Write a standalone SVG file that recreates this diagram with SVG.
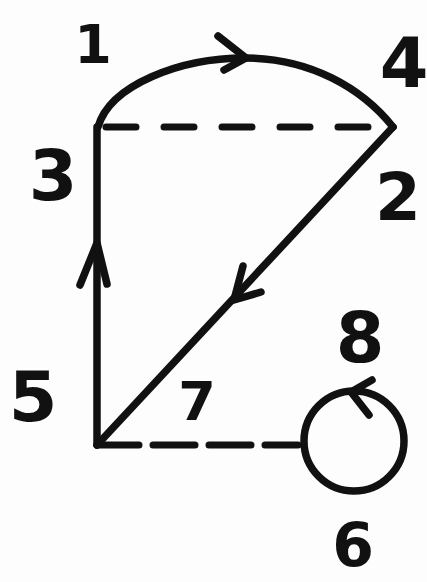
<svg xmlns="http://www.w3.org/2000/svg" width="427" height="582" viewBox="0 0 427 582">
<style>
.e{fill:none;stroke:#111;stroke-width:7.5;stroke-linecap:round;stroke-linejoin:round}
.d{fill:none;stroke:#111;stroke-width:7;stroke-linecap:round}
.t{font-family:"DejaVu Sans",sans-serif;font-weight:bold;fill:#111;text-anchor:middle}
</style>
<rect width="427" height="582" fill="#fdfdfd"/>
<g id="connectors">
<path class="e" d="M98,127 C110,85 180,58 245,58 C310,58 362,88 393,127"/>
<polyline class="e" points="218,36 246,58 224,70"/>
<line class="d" x1="98" y1="127" x2="390" y2="127" stroke-dasharray="30,28" stroke-dashoffset="-8"/>
<line class="e" x1="97" y1="127" x2="97" y2="445"/>
<polyline class="e" points="80,285 97,243 107,284"/>
<line class="e" x1="393" y1="127" x2="97" y2="445"/>
<polyline class="e" points="243,266 234,300 261,292"/>
<line class="d" x1="97" y1="445" x2="298" y2="445" stroke-dasharray="42,14"/>
</g>
<g id="node-circle">
<circle class="e" cx="354" cy="441" r="50"/>
<polyline class="e" points="372,380 351,392 369,415"/>
</g>
<g id="labels">
<text class="t" x="93" y="63" font-size="54">1</text>
<text class="t" x="404" y="87" font-size="70">4</text>
<text class="t" x="53" y="200" font-size="70">3</text>
<text class="t" x="398" y="220" font-size="66">2</text>
<text class="t" x="33" y="421" font-size="70">5</text>
<text class="t" x="197" y="420" font-size="54">7</text>
<text class="t" x="360" y="362" font-size="70">8</text>
<text class="t" x="353" y="566" font-size="60">6</text>
</g>
</svg>
